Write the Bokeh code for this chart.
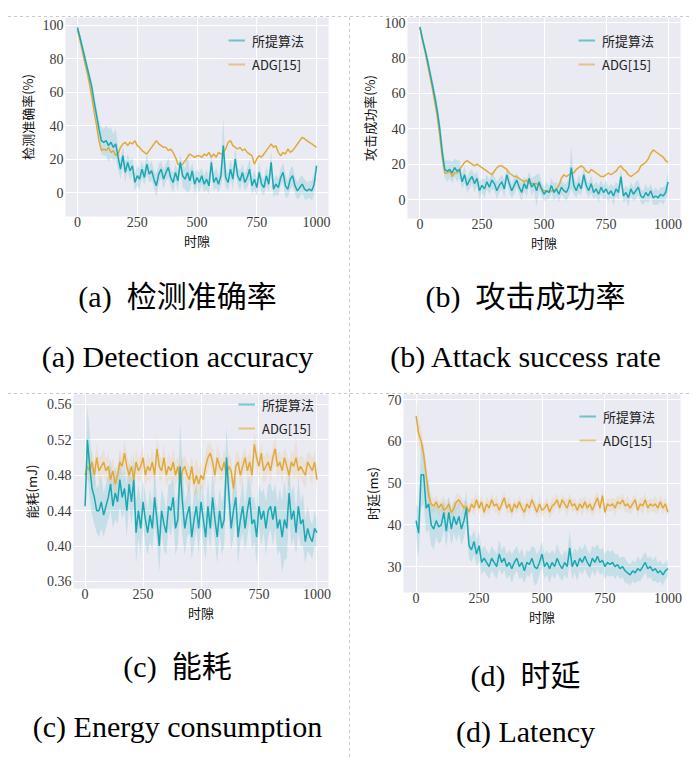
import numpy as np
from bokeh.plotting import figure
from bokeh.models import (Div, Legend, LegendItem, FixedTicker, Range1d, Spacer,
                          NumeralTickFormatter)
from bokeh.layouts import column, row
from bokeh.embed import file_html
from bokeh.resources import INLINE

# ---------------- data ----------------
slots = list(range(0, 1001, 10))
x_ticks = [0, 250, 500, 750, 1000]
x_label = "时隙"
names = ["所提算法", "ADG[15]"]

# (a) detection accuracy (%)
det_prop = [98.5, 93, 87, 81, 75, 69, 63, 54, 46, 38,
            31, 30, 31, 28, 30, 27, 29, 21, 14, 22,
            12, 18, 13, 16, 6, 10, 8, 14, 9, 17,
            11, 13, 8, 4, 11, 14, 8, 12, 15, 9,
            6, 12, 7, 18, 10, 8, 12, 7, 13, 5,
            9, 6, 10, 5, 8, 4, 18, 6, 9, 5,
            10, 28, 9, 6, 14, 8, 20, 10, 7, 12,
            6, 9, 14, 4, 8, 3, 12, 5, 3, 10,
            5, 18, 2, 5, 3, 9, 12, 4, 2, 8,
            10, 4, 1, 3, 5, 2, 1, 2, 1, 5,
            16]
det_prop_hw = [1, 2, 3, 3, 3, 3, 4, 4, 5, 5,
               8, 8, 9, 10, 9, 8, 9, 7, 6, 6,
               6, 5, 6, 5, 5, 6, 6, 5, 5, 6,
               5, 6, 5, 7, 6, 5, 6, 5, 6, 5,
               6, 5, 6, 5, 7, 6, 12, 6, 5, 6,
               5, 6, 5, 5, 6, 5, 6, 5, 6, 5,
               6, 17, 6, 5, 6, 6, 7, 5, 6, 5,
               5, 6, 6, 5, 6, 5, 6, 5, 5, 6,
               5, 7, 5, 6, 5, 5, 6, 7, 5, 6,
               6, 5, 5, 6, 5, 6, 5, 5, 6, 6,
               5]
det_adg = [97, 91, 85, 78, 72, 65, 57, 48, 40, 31,
           25, 26, 25, 27, 24, 25, 22, 23, 27, 29,
           30, 28, 30, 29, 31, 28, 27, 25, 24, 23,
           25, 27, 29, 31, 29, 28, 27, 27, 25, 26,
           24, 21, 17, 16, 17, 19, 21, 23, 22, 21,
           22, 22, 21, 23, 22, 24, 21, 23, 21, 24,
           23, 24, 26, 30, 31, 28, 27, 26, 27, 25,
           26, 24, 23, 22, 17, 20, 22, 21, 23, 25,
           27, 29, 27, 28, 24, 22, 24, 23, 26, 24,
           25, 27, 29, 31, 33, 32, 31, 30, 29, 28,
           27]

# (b) attack success rate (%)
asr_prop = [97.5, 91, 85, 79, 72, 65, 58, 50, 40, 27,
            17, 16, 17, 15, 18, 16, 17, 10, 14, 8,
            11, 13, 9, 12, 5, 8, 6, 10, 7, 11,
            9, 5, 8, 10, 6, 14, 9, 5, 8, 11,
            7, 4, 9, 6, 12, 7, 9, 5, 10, 6,
            3, 5, 4, 8, 4, 6, 3, 7, 5, 4,
            7, 18, 8, 5, 9, 6, 14, 8, 5, 9,
            4, 6, 3, 7, 4, 6, 3, 5, 2, 6,
            4, 13, 2, 4, 1, 6, 3, 5, 7, 2,
            1, 4, 2, 5, 1, 2, 1, 3, 2, 4,
            10]
asr_prop_hw = [1, 2, 2, 3, 3, 4, 4, 5, 5, 6,
               5, 6, 5, 6, 5, 6, 5, 4, 5, 4,
               5, 4, 5, 4, 5, 4, 5, 4, 4, 5,
               4, 5, 4, 4, 5, 4, 5, 4, 5, 4,
               4, 5, 4, 5, 4, 5, 4, 9, 5, 4,
               4, 5, 4, 4, 5, 4, 5, 4, 4, 5,
               5, 12, 5, 4, 5, 4, 5, 4, 4, 5,
               4, 4, 5, 4, 4, 5, 4, 4, 5, 4,
               4, 5, 4, 4, 5, 4, 4, 5, 4, 4,
               4, 5, 4, 4, 4, 5, 4, 4, 5, 4,
               6]
asr_adg = [97, 90, 84, 77, 70, 63, 55, 47, 36, 24,
           15, 15, 16, 13, 15, 15, 17, 19, 21, 22,
           21, 20, 19, 20, 19, 18, 17, 16, 15, 14,
           16, 18, 19, 19, 18, 17, 15, 14, 13, 13,
           12, 11, 10, 11, 9, 9, 9, 9, 8, 6,
           5, 5, 4, 5, 5, 6, 8, 12, 14, 13,
           14, 15, 15, 17, 18, 19, 18, 16, 15, 17,
           16, 15, 14, 13, 13, 14, 15, 14, 15, 16,
           18, 19, 17, 16, 14, 13, 14, 15, 16, 19,
           20, 21, 23, 26, 28, 27, 26, 25, 24, 22,
           21]

# (c) energy consumption (mJ)
en_prop = [0.445, 0.52, 0.49, 0.465, 0.455, 0.44, 0.44, 0.45, 0.435, 0.445,
           0.455, 0.47, 0.445, 0.46, 0.45, 0.475, 0.455, 0.465, 0.44, 0.47,
           0.45, 0.475, 0.415, 0.44, 0.42, 0.45, 0.43, 0.415, 0.435, 0.42,
           0.455, 0.43, 0.40, 0.44, 0.425, 0.415, 0.445, 0.44, 0.455, 0.42,
           0.43, 0.49, 0.45, 0.42, 0.435, 0.445, 0.41, 0.43, 0.445, 0.42,
           0.45, 0.43, 0.41, 0.445, 0.42, 0.455, 0.43, 0.41, 0.44, 0.42,
           0.43, 0.50, 0.46, 0.42, 0.44, 0.455, 0.41, 0.43, 0.445, 0.42,
           0.44, 0.455, 0.425, 0.43, 0.41, 0.445, 0.43, 0.44, 0.42, 0.44,
           0.445, 0.43, 0.445, 0.42, 0.43, 0.41, 0.43, 0.42, 0.46, 0.43,
           0.44, 0.415, 0.445, 0.425, 0.43, 0.405, 0.42, 0.41, 0.405, 0.42,
           0.415]
en_prop_hw = [0.015, 0.04, 0.035, 0.03, 0.03, 0.025, 0.03, 0.03, 0.025, 0.025,
              0.025, 0.03, 0.025, 0.03, 0.025, 0.03, 0.025, 0.025, 0.03, 0.025,
              0.025, 0.03, 0.035, 0.03, 0.03, 0.025, 0.03, 0.025, 0.03, 0.025,
              0.03, 0.025, 0.03, 0.025, 0.03, 0.025, 0.025, 0.03, 0.025, 0.03,
              0.03, 0.05, 0.04, 0.03, 0.025, 0.03, 0.025, 0.03, 0.025, 0.03,
              0.025, 0.03, 0.025, 0.03, 0.025, 0.03, 0.025, 0.03, 0.025, 0.03,
              0.03, 0.035, 0.03, 0.025, 0.03, 0.025, 0.03, 0.025, 0.03, 0.025,
              0.03, 0.025, 0.03, 0.025, 0.03, 0.025, 0.03, 0.025, 0.03, 0.03,
              0.025, 0.03, 0.025, 0.03, 0.035, 0.04, 0.045, 0.035, 0.03, 0.03,
              0.03, 0.025, 0.03, 0.025, 0.03, 0.025, 0.025, 0.02, 0.02, 0.02,
              0.015]
en_adg = [0.48, 0.49, 0.485, 0.495, 0.48, 0.50, 0.485, 0.49, 0.495, 0.485,
          0.49, 0.475, 0.485, 0.47, 0.48, 0.495, 0.49, 0.505, 0.49, 0.48,
          0.49, 0.475, 0.495, 0.485, 0.49, 0.50, 0.48, 0.49, 0.485, 0.495,
          0.48, 0.51, 0.49, 0.485, 0.50, 0.48, 0.49, 0.485, 0.495, 0.48,
          0.49, 0.47, 0.485, 0.49, 0.48, 0.475, 0.49, 0.47, 0.48, 0.47,
          0.48, 0.475, 0.49, 0.50, 0.505, 0.495, 0.48, 0.50, 0.49, 0.485,
          0.495, 0.48, 0.49, 0.485, 0.465, 0.49, 0.495, 0.48, 0.49, 0.50,
          0.485, 0.495, 0.48, 0.515, 0.50, 0.49, 0.505, 0.485, 0.49, 0.495,
          0.485, 0.50, 0.51, 0.49, 0.495, 0.485, 0.50, 0.49, 0.48, 0.495,
          0.49, 0.50, 0.485, 0.49, 0.485, 0.48, 0.495, 0.49, 0.485, 0.495,
          0.475]
en_adg_hw = [0.015, 0.015, 0.012, 0.015, 0.012, 0.015, 0.015, 0.012, 0.015, 0.012,
             0.015, 0.012, 0.015, 0.015, 0.012, 0.015, 0.012, 0.015, 0.015, 0.012,
             0.015, 0.012, 0.015, 0.012, 0.015, 0.015, 0.012, 0.015, 0.012, 0.015,
             0.012, 0.015, 0.015, 0.012, 0.015, 0.012, 0.015, 0.012, 0.015, 0.015,
             0.012, 0.02, 0.015, 0.012, 0.015, 0.015, 0.012, 0.015, 0.02, 0.015,
             0.015, 0.012, 0.015, 0.015, 0.012, 0.015, 0.012, 0.015, 0.015, 0.012,
             0.015, 0.012, 0.015, 0.015, 0.012, 0.015, 0.012, 0.015, 0.015, 0.012,
             0.015, 0.012, 0.015, 0.015, 0.012, 0.015, 0.012, 0.015, 0.015, 0.012,
             0.015, 0.012, 0.015, 0.015, 0.012, 0.015, 0.012, 0.015, 0.015, 0.012,
             0.015, 0.02, 0.015, 0.012, 0.015, 0.015, 0.012, 0.015, 0.015, 0.012,
             0.015]

# (d) latency (ms)
lat_prop = [41, 38, 52, 52, 44, 45, 40, 39, 41, 39.5,
            40, 43, 38.5, 43, 39, 42, 40, 42, 39, 41,
            44, 35, 34, 36, 33, 35, 31, 32, 31, 30,
            32, 31, 30, 33, 31, 32, 30, 31, 29.5, 31,
            32, 30, 31, 29, 31, 30.5, 32, 30, 29.5, 31,
            33, 30, 31, 29.5, 31, 30, 32, 30.5, 29.5, 31,
            30, 34.5, 30, 31.5, 30, 32, 31, 32.5, 31, 30,
            32, 31, 32.5, 31, 31.5, 30, 31, 30.5, 31, 30,
            30.5, 29.5, 30, 29, 28.5, 28, 29, 28.5, 29.5, 29,
            30, 31, 29.5, 30, 29, 29.5, 28.5, 29, 28, 29,
            29.5]
lat_prop_hw = [4, 6, 8, 7, 6, 6, 5, 5, 4, 4,
               4, 4, 4, 4, 4, 4, 4, 4, 4, 4,
               4, 3, 3, 3, 3, 3.5, 3, 3, 3, 3,
               3, 3, 3, 3.5, 3, 3, 3, 3, 3.5, 3,
               3, 3, 3.5, 3, 3, 3, 3, 4.5, 3.5, 3,
               3, 3, 3, 3.5, 3, 3, 3.5, 3, 3, 3,
               3, 4, 3, 3, 3.5, 3, 3, 3, 3, 3,
               3, 3.5, 3, 3, 3, 3, 3, 3, 3, 3,
               2.5, 2.5, 2.5, 3, 2.5, 2.5, 2.5, 2.5, 3, 2.5,
               2.5, 2.5, 2.5, 2.5, 2.5, 3, 2.5, 2.5, 2.5, 2,
               2]
lat_adg = [66, 62, 60, 57, 52, 47, 45, 44.5, 45.5, 44,
           45, 43.5, 44, 45, 43, 44, 45.5, 46, 45, 44,
           44.5, 43, 45, 44, 46, 44, 45.5, 43, 45, 44,
           46, 44.5, 45, 43.5, 45, 46.5, 44, 45, 43, 45,
           44, 45.5, 44, 43, 45, 44, 46, 44.5, 43, 45,
           43.5, 44, 45, 43, 44.5, 45, 46, 44, 46, 45,
           44, 46, 44.5, 45, 43.5, 45, 44, 45.5, 44, 45,
           43.5, 45, 46.5, 44, 47, 43, 45, 44.5, 45, 44,
           45.5, 45, 46, 44.5, 45, 44, 45, 46, 43.5, 45,
           44.5, 46, 44, 45, 44.5, 45, 44, 45.5, 44, 45,
           43]
lat_adg_hw = [3.5, 3, 3, 2.5, 2.5, 2, 2, 1.5, 1.5, 1.5,
              1.5, 1.5, 2, 1.5, 1.5, 1.5, 2, 1.5, 1.5, 1.5,
              1.5, 1.5, 1.5, 2, 1.5, 1.5, 1.5, 1.5, 2, 1.5,
              1.5, 1.5, 2, 1.5, 1.5, 1.5, 1.5, 2, 1.5, 1.5,
              1.5, 1.5, 1.5, 2, 1.5, 1.5, 1.5, 1.5, 1.5, 2,
              1.5, 1.5, 1.5, 1.5, 2, 1.5, 1.5, 1.5, 1.5, 1.5,
              2, 1.5, 1.5, 1.5, 1.5, 1.5, 2, 1.5, 1.5, 1.5,
              1.5, 2, 1.5, 1.5, 2, 1.5, 1.5, 1.5, 1.5, 2,
              1.5, 1.5, 1.5, 1.5, 2, 1.5, 1.5, 1.5, 1.5, 1.5,
              2, 1.5, 1.5, 1.5, 1.5, 2, 1.5, 1.5, 1.5, 1.5,
              1.5]

# ---------------- styling ----------------
TEAL = "#19A8B1"
GOLD = "#E1A93B"
BG = "#EAEAF2"
TICK_FONT = "Liberation Serif"
CJK = "Noto Sans CJK SC"


def panel(width, height, left, right, bottom, yr, yticks, ylabel,
          prop, prop_hw, adg, adg_hw, leg_xy, fmt=None):
    p = figure(width=width, height=height, x_range=Range1d(-50, 1050),
               y_range=Range1d(*yr), output_backend="svg", toolbar_location=None,
               min_border_left=left, min_border_right=right, min_border_top=0,
               min_border_bottom=bottom, background_fill_color=BG,
               border_fill_color="white", outline_line_color=None)
    p.xaxis.ticker = FixedTicker(ticks=x_ticks)
    p.yaxis.ticker = FixedTicker(ticks=yticks)
    if fmt:
        p.yaxis.formatter = NumeralTickFormatter(format=fmt)
    for ax in (p.xaxis, p.yaxis):
        ax.axis_line_color = None
        ax.major_tick_line_color = None
        ax.minor_tick_line_color = None
        ax.major_tick_out = 0
        ax.major_tick_in = 0
        ax.major_label_text_font = TICK_FONT
        ax.major_label_text_font_size = "14px"
        ax.major_label_text_color = "#3a3a3a"
        ax.axis_label_text_font = CJK
        ax.axis_label_text_font_size = "13px"
        ax.axis_label_text_font_style = "normal"
        ax.axis_label_text_color = "#111111"
    p.xaxis.major_label_standoff = 0
    p.xaxis.axis_label_standoff = 1
    p.yaxis.major_label_standoff = 2
    p.yaxis.axis_label_standoff = 3
    p.xaxis.axis_label = x_label
    p.yaxis.axis_label = ylabel
    p.grid.grid_line_color = "white"
    p.grid.grid_line_width = 1

    x = np.array(slots)
    pm, ph = np.array(prop, float), np.array(prop_hw, float)
    p.varea(x=x, y1=pm - ph, y2=pm + ph, fill_color=TEAL, fill_alpha=0.17)
    if adg_hw is not None:
        am, ah = np.array(adg, float), np.array(adg_hw, float)
        p.varea(x=x, y1=am - ah, y2=am + ah, fill_color=GOLD, fill_alpha=0.15)
    p.line(x, adg, line_color=GOLD, line_width=1.5)
    p.line(x, prop, line_color=TEAL, line_width=1.5)

    # legend keys (lighter, as in the reference); one NaN point so nothing is drawn
    nan = np.array([np.nan])
    k1 = p.line(nan, nan, line_color=TEAL, line_alpha=0.6, line_width=2)
    k2 = p.line(nan, nan, line_color=GOLD, line_alpha=0.6, line_width=2)
    leg = Legend(items=[LegendItem(label=names[0], renderers=[k1]),
                        LegendItem(label=names[1], renderers=[k2])],
                 location=leg_xy, margin=0, padding=0, spacing=4,
                 label_height=20, glyph_height=20, glyph_width=17,
                 label_standoff=7, border_line_color=None,
                 background_fill_alpha=0, label_text_font=CJK,
                 label_text_font_size="13px", label_text_color="#222222")
    p.add_layout(leg)
    return p


pa = panel(341, 247, 57, 21, 48, (-14.3, 104.5), [0, 20, 40, 60, 80, 100],
           "检测准确率(%)", det_prop, det_prop_hw, det_adg, None, (163, 142))
pb = panel(341, 247, 57, 11, 46, (-10.7, 102.8), [0, 20, 40, 60, 80, 100],
           "攻击成功率(%)", asr_prop, asr_prop_hw, asr_adg, None, (171, 144))
pc = panel(341, 240, 65, 21, 46, (0.352, 0.5713), [0.36, 0.40, 0.44, 0.48, 0.52, 0.56],
           "能耗(mJ)", en_prop, en_prop_hw, en_adg, en_adg_hw, (165, 150), fmt="0.00")
pd = panel(341, 240, 53, 11, 42, (23.8, 71.2), [30, 40, 50, 60, 70],
           "时延(ms)", lat_prop, lat_prop_hw, lat_adg, lat_adg_hw, (176, 142))

CAP_FONT = ("font-family:'Liberation Serif','Noto Sans CJK SC',serif;font-size:30px;"
            "color:#000;white-space:nowrap;text-align:center;")


def caption(zh, en, h, top, h1, h2, shift):
    html = (f"<div style=\"position:relative;left:{shift}px;width:341px;padding-top:{top}px;\">"
            f"<div style=\"{CAP_FONT}height:{h1}px;line-height:{h1}px;\">{zh}</div>"
            f"<div style=\"{CAP_FONT}height:{h2}px;line-height:{h2}px;\">{en}</div></div>")
    return Div(text=html, width=341, height=h, margin=0)


ca = caption("(a)&nbsp; 检测准确率", "(a) Detection accuracy", 129, 0, 66, 54, -1)
cb = caption("(b)&nbsp; 攻击成功率", "(b) Attack success rate", 129, 0, 66, 54, 5)
cc = caption("(c)&nbsp; 能耗", "(c) Energy consumption", 126, 0, 66, 54, -1)
cd = caption("(d)&nbsp; 时延", "(d) Latency", 126, 9, 66, 46, 5)

DASH_H = "repeating-linear-gradient(to right,#c9c9c9 0px,#c9c9c9 3px,transparent 3px,transparent 6px)"
DASH_V = "repeating-linear-gradient(to bottom,#c9c9c9 0px,#c9c9c9 3px,transparent 3px,transparent 6px)"


def hsep():
    return Div(text="", width=684, height=1, margin=0, styles={"background": DASH_H})


def vsep(h):
    return Div(text="", width=1, height=h, margin=0, styles={"background": DASH_V})


grid = column(
    Spacer(width=684, height=16, margin=0),
    hsep(),
    row(column(pa, ca, margin=0), vsep(376), column(pb, cb, margin=0), margin=0),
    hsep(),
    row(column(pc, cc, margin=0), vsep(366), column(pd, cd, margin=0), margin=0),
    margin=0,
)
layout = row(Spacer(width=8, height=10, margin=0), grid, margin=0)

with open("out.html", "w", encoding="utf-8") as f:
    f.write(file_html(layout, INLINE))
